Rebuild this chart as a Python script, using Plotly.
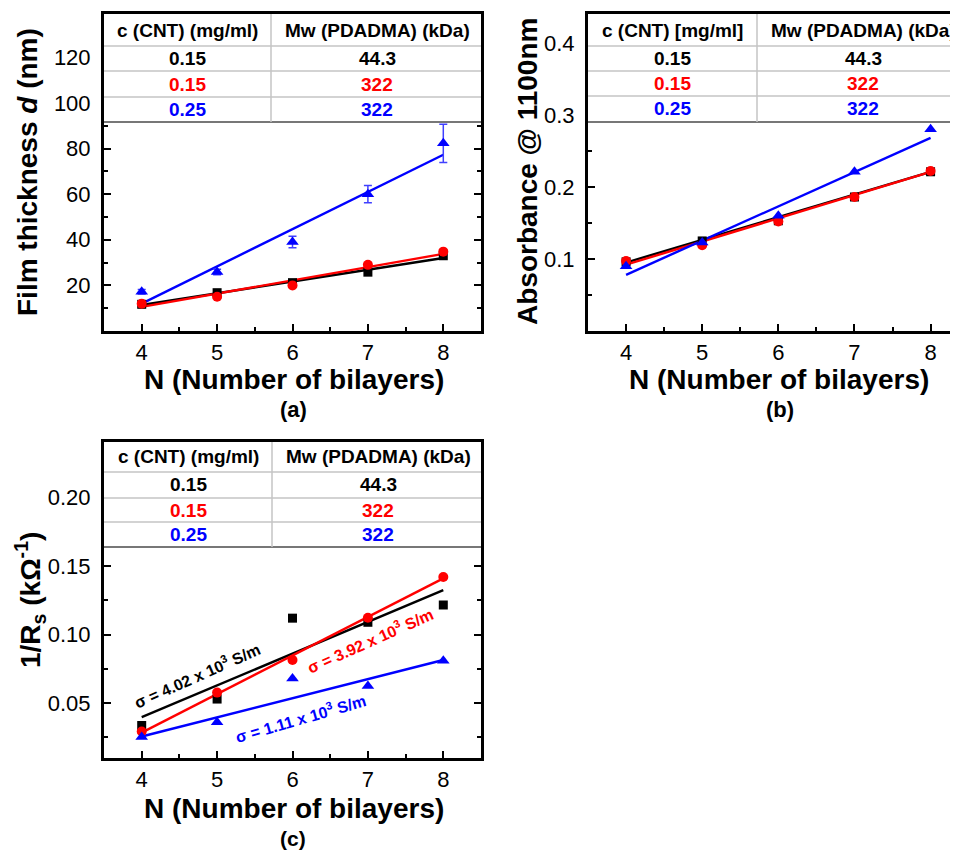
import plotly.graph_objects as go

# page is 958x851; the browser body has an 8px margin, so the figure is 950x843
W, H = 950, 843
OFF = 8
FONT = "Arial, 'Liberation Sans', sans-serif"

# ---------------- data ----------------
N = [4, 5, 6, 7, 8]
fit_N = [4, 8]

# (a) film thickness (nm)
thick_black = [11.7, 16.8, 21.2, 25.8, 33.0]
thick_red = [12.0, 15.0, 20.0, 29.0, 34.8]
thick_blue = [17.2, 25.9, 39.0, 60.0, 82.3]
thick_blue_err = [1.0, 1.2, 2.5, 3.8, 8.4]
thick_fit_black = [11.4, 32.0]
thick_fit_red = [10.6, 33.8]
thick_fit_blue = [12.0, 77.3]

# (b) absorbance @ 1100 nm
abs_black = [0.096, 0.125, 0.153, 0.186, 0.221]
abs_red = [0.097, 0.119, 0.152, 0.186, 0.222]
abs_blue = [0.090, 0.123, 0.160, 0.221, 0.280]
abs_fit_black = [0.095, 0.221]
abs_fit_red = [0.092, 0.221]
abs_fit_blue = [0.078, 0.268]

# (c) 1/Rs (kOhm^-1)
cond_black = [0.0337, 0.053, 0.112, 0.109, 0.1216]
cond_red = [0.0293, 0.0577, 0.0815, 0.1123, 0.142]
cond_blue = [0.0253, 0.036, 0.068, 0.0626, 0.081]
cond_fit_black = [0.0398, 0.1325]
cond_fit_red = [0.0285, 0.141]
cond_fit_blue = [0.0257, 0.0815]

sigma_labels = ["σ = 4.02 x 10<sup>3</sup> S/m", "σ = 3.92 x 10<sup>3</sup> S/m", "σ = 1.11 x 10<sup>3</sup> S/m"]

# table contents
header_a = ["c (CNT) (mg/ml)", "Mw (PDADMA) (kDa)"]
header_b = ["c (CNT) [mg/ml]", "Mw (PDADMA) (kDa)"]
conc = ["0.15", "0.15", "0.25"]
mw = ["44.3", "322", "322"]
series_colors = ["#000000", "#ff0000", "#0000ff"]

x_ticks = [4, 5, 6, 7, 8]
y_ticks_a = [20, 40, 60, 80, 100, 120]
y_ticks_b = [0.1, 0.2, 0.3, 0.4]
y_ticks_c = [0.05, 0.10, 0.15, 0.20]


def xp(px):
    return (px - OFF) / W


def yp(py):
    return 1 - (py - OFF) / H


fig = go.Figure()

BLACK, RED, BLUE = series_colors


def add_panel(xa, ya, yb, yr, yblu, fb, fr, fbl, sizes=(9, 10, 11), blue_err=None):
    common = dict(xaxis=xa, yaxis=ya, showlegend=False, hoverinfo="skip")
    fig.add_trace(go.Scatter(x=fit_N, y=fb, mode="lines", line=dict(color=BLACK, width=2.4), **common))
    fig.add_trace(go.Scatter(x=fit_N, y=fr, mode="lines", line=dict(color=RED, width=2.4), **common))
    fig.add_trace(go.Scatter(x=fit_N, y=fbl, mode="lines", line=dict(color=BLUE, width=2.4), **common))
    fig.add_trace(go.Scatter(x=N, y=yb, mode="markers",
                             marker=dict(symbol="square", size=sizes[0], color=BLACK), **common))
    fig.add_trace(go.Scatter(x=N, y=yr, mode="markers",
                             marker=dict(symbol="circle", size=sizes[1], color=RED), **common))
    err = None
    if blue_err is not None:
        err = dict(type="data", array=blue_err, visible=True, color="#4040ff", thickness=1.5, width=4)
    fig.add_trace(go.Scatter(x=N, y=yblu, mode="markers", error_y=err,
                             marker=dict(symbol="triangle-up", size=sizes[2], color=BLUE), **common))


add_panel("x", "y", thick_black, thick_red, thick_blue, thick_fit_black, thick_fit_red, thick_fit_blue,
          blue_err=thick_blue_err)
add_panel("x2", "y2", abs_black, abs_red, abs_blue, abs_fit_black, abs_fit_red, abs_fit_blue)
add_panel("x3", "y3", cond_black, cond_red, cond_blue, cond_fit_black, cond_fit_red, cond_fit_blue)

tickfont = dict(family=FONT, size=22, color="black")


def xax(domain, rng, anchor, mirror="ticks"):
    return dict(domain=domain, range=rng, anchor=anchor, tickmode="array", tickvals=x_ticks,
                ticks="inside", ticklen=7, tickwidth=2, tickcolor="black",
                showline=True, linewidth=3, linecolor="black", mirror=mirror,
                showgrid=False, zeroline=False, tickfont=tickfont, ticklabelstandoff=0,
                minor=dict(ticks="inside", ticklen=4, tickwidth=2, tickcolor="black",
                           tickmode="linear", tick0=0.5, dtick=1, showgrid=False))


def yax(domain, rng, anchor, vals, minor_d, fmt=None, mirror="ticks"):
    d = dict(domain=domain, range=rng, anchor=anchor, tickmode="array", tickvals=vals,
             ticks="inside", ticklen=7, tickwidth=2, tickcolor="black",
             showline=True, linewidth=3, linecolor="black", mirror=mirror,
             showgrid=False, zeroline=False, tickfont=tickfont, ticklabelstandoff=6,
             minor=dict(ticks="inside", ticklen=4, tickwidth=2, tickcolor="black",
                        tickmode="linear", tick0=minor_d, dtick=2 * minor_d, showgrid=False))
    if fmt:
        d["tickformat"] = fmt
    return d


# panel pixel boxes (page coordinates)
A = dict(l=104, r=481, t=14, b=331)
B = dict(l=588, r=958, t=14, b=331)
C = dict(l=104, r=481, t=442, b=758)

fig.update_layout(
    width=W, height=H, margin=dict(l=0, r=0, t=0, b=0),
    paper_bgcolor="white", plot_bgcolor="white",
    font=dict(family=FONT, color="black"),
    xaxis=xax([xp(A["l"]), xp(A["r"])], [3.5, 8.5], "y"),
    yaxis=yax([yp(A["b"]), yp(A["t"])], [0, 139], "x", y_ticks_a, 10),
    xaxis2=xax([xp(B["l"]), xp(B["r"])], [3.5, 8.36], "y2"),
    yaxis2=yax([yp(B["b"]), yp(B["t"])], [0, 0.44], "x2", y_ticks_b, 0.05, fmt=".1f", mirror=False),
    xaxis3=xax([xp(C["l"]), xp(C["r"])], [3.5, 8.5], "y3"),
    yaxis3=yax([yp(C["b"]), yp(C["t"])], [0.01, 0.2405], "x3", y_ticks_c, 0.025, fmt=".2f"),
)

shapes = []
annotations = []


def add_table(x0, xdiv, x1, rows_y, header):
    # rows_y: [top, header_bottom, row1_bottom, row2_bottom, bottom]
    top, bot = rows_y[0], rows_y[-1]
    shapes.append(dict(type="rect", xref="paper", yref="paper", x0=xp(x0), x1=xp(x1),
                       y0=yp(bot), y1=yp(top), fillcolor="white", line=dict(width=0), layer="above"))
    for yy in rows_y[1:-1]:
        shapes.append(dict(type="line", xref="paper", yref="paper", x0=xp(x0), x1=xp(x1),
                           y0=yp(yy), y1=yp(yy), line=dict(color="#c4c4c4", width=1.5), layer="above"))
    shapes.append(dict(type="line", xref="paper", yref="paper", x0=xp(x0), x1=xp(x1),
                       y0=yp(bot), y1=yp(bot), line=dict(color="#4a4a4a", width=1.5), layer="above"))
    shapes.append(dict(type="line", xref="paper", yref="paper", x0=xp(xdiv), x1=xp(xdiv),
                       y0=yp(bot), y1=yp(top), line=dict(color="#c4c4c4", width=1.5), layer="above"))
    c1 = (x0 + xdiv) / 2
    c2 = xdiv + 106
    hy = (rows_y[0] + rows_y[1]) / 2
    for txt, cx in zip(header, [c1, c2]):
        annotations.append(dict(x=xp(cx), y=yp(hy), xref="paper", yref="paper", showarrow=False,
                                text="<b>" + txt + "</b>", font=dict(family=FONT, size=19, color="black"),
                                xanchor="center", yanchor="middle"))
    for i in range(3):
        ry = (rows_y[i + 1] + rows_y[i + 2]) / 2
        for txt, cx in zip([conc[i], mw[i]], [c1, c2]):
            annotations.append(dict(x=xp(cx), y=yp(ry), xref="paper", yref="paper", showarrow=False,
                                    text="<b>" + txt + "</b>",
                                    font=dict(family=FONT, size=19, color=series_colors[i]),
                                    xanchor="center", yanchor="middle"))


add_table(A["l"], 271, A["r"], [14, 46, 71, 97, 122], header_a)
add_table(B["l"], 757, 990, [14, 46, 71, 96, 122], header_b)
add_table(C["l"], 272, C["r"], [442, 472, 498, 522, 547], header_a)


def label(text, x, y, size, angle=0, color="black"):
    annotations.append(dict(x=xp(x), y=yp(y), xref="paper", yref="paper", showarrow=False,
                            text=text, textangle=angle, font=dict(family=FONT, size=size, color=color),
                            xanchor="center", yanchor="middle"))


# axis titles
label("<b>Film thickness <i>d</i> (nm)</b>", 27, 172, 28, -90)
label("<b>Absorbance @ 1100nm</b>", 527, 172, 28, -90)
label("<b>1/R<sub>s</sub> (kΩ<sup>-1</sup>)</b>", 30, 600, 28, -90)
label("<b>N (Number of bilayers)</b>", 294, 379, 28)
label("<b>N (Number of bilayers)</b>", 779, 379, 28)
label("<b>N (Number of bilayers)</b>", 294, 808, 28)
label("<b>(a)</b>", 293, 409, 22)
label("<b>(b)</b>", 780, 409, 22)
label("<b>(c)</b>", 293, 838, 21)

# conductivity labels
label("<b>" + sigma_labels[0] + "</b>", 197, 675, 16, -24, BLACK)
label("<b>" + sigma_labels[1] + "</b>", 370, 640, 16, -24, RED)
label("<b>" + sigma_labels[2] + "</b>", 300, 718, 16, -16, BLUE)

fig.update_layout(shapes=shapes, annotations=annotations)
fig.write_html("out.html")
